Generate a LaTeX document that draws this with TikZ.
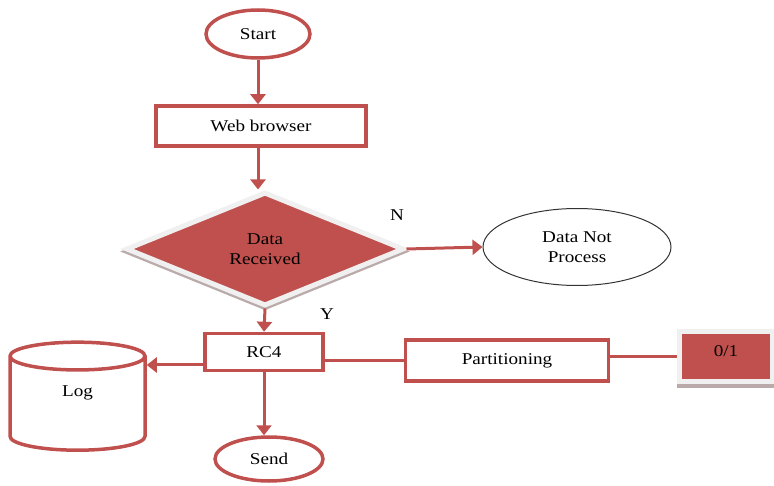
\documentclass[tikz,border=0pt]{standalone}
\usepackage{fontspec}
\setmainfont{Liberation Serif}[FakeStretch=1.16]
\usepackage{xcolor}
\usetikzlibrary{arrows.meta,positioning,shapes.geometric,shadows}
\definecolor{fcred}{HTML}{C0504D}
\definecolor{rimgrey}{HTML}{F0F0F0}
\definecolor{shadegrey}{RGB}{186,170,170}

\begin{document}
\begin{tikzpicture}[
  x=1pt, y=-1pt,
  font=\fontsize{16.5}{20}\selectfont,
  term/.style={ellipse, draw=fcred, line width=3.5pt, inner sep=0pt},
  proc/.style={rectangle, draw=fcred, line width=3.5pt, fill=white, inner sep=0pt},
  decide/.style={diamond, fill=fcred, draw=rimgrey, line width=5pt, align=center, inner sep=0pt,
    drop shadow={shadow xshift=0pt, shadow yshift=-2.5pt, fill=shadegrey, draw=shadegrey, line width=5pt, opacity=1}},
  flag/.style={rectangle, fill=fcred, draw=rimgrey, line width=5pt, inner sep=0pt,
    drop shadow={shadow xshift=0pt, shadow yshift=-3.5pt, fill=shadegrey, draw=shadegrey, line width=5pt, opacity=1}},
  store/.style={cylinder, shape border rotate=90, aspect=0.9, draw=fcred, line width=3.5pt, inner sep=0pt},
  outcome/.style={ellipse, draw=black!80, line width=1pt, align=center, inner sep=0pt},
  arr/.style={draw=fcred, line width=3pt, -{Triangle[length=10pt,width=15pt]}},
  ln/.style={draw=fcred, line width=3pt},
]
\useasboundingbox (0,0) rectangle (774,486);

\node[term, minimum width=104pt, minimum height=48pt] (start) at (258,34) {Start};
\node[proc, minimum width=210pt, minimum height=40pt] (web) at (261,126) {Web browser};
\node[decide, minimum width=278pt, minimum height=114pt] (dec) at (265,249) {Data\\Received};
\node[outcome, minimum width=188pt, minimum height=77pt] (notproc) at (577,247) {Data Not\\Process};
\node[proc, minimum width=118pt, minimum height=37pt] (rc4) at (264,352) {RC4};
\node[proc, minimum width=203pt, minimum height=41pt] (part) at (507,360.5) {Partitioning};
\node[flag, minimum width=93pt, text height=25.5pt, text depth=24.5pt] (bit) at (726,356.5) {0/1};
\node[store, minimum width=135pt, minimum height=108pt, text depth=26pt] (log) at (77.5,404) {Log};
\node[term, minimum width=108pt, minimum height=44pt] (send) at (269,459) {Send};

\node (lblN) at (397,215) {N};
\node (lblY) at (327,314) {Y};

\draw[arr] (start.south) -- (start.south |- web.north);
\draw[arr] (web.south -| start.south) -- (dec.north -| start.south);
\draw[arr] (dec.east) -- (notproc.west);
\draw[arr] (dec.south) -- (rc4.north);
\draw[arr] (rc4.south) -- (rc4.south |- send.north);
\draw[arr] ([yshift=-13pt]rc4.west) -- ([yshift=-13pt]rc4.west -| log.east);
\draw[ln] (part.west) -- (part.west -| rc4.east);
\draw[ln] (bit.west -| part.east) -- (bit.west);
\end{tikzpicture}
\end{document}
